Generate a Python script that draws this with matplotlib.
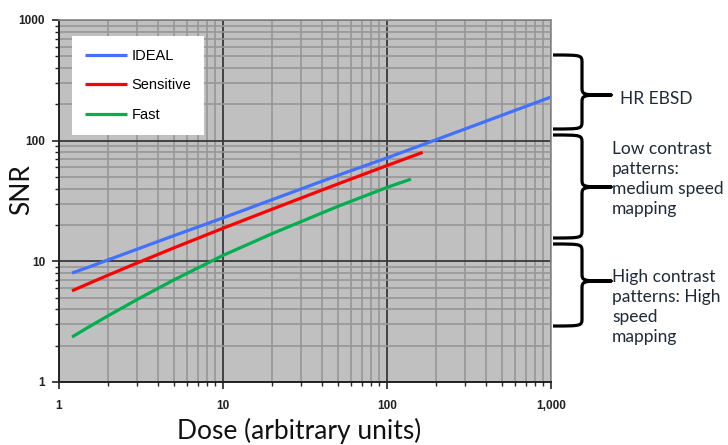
import matplotlib
matplotlib.use("Agg")
import matplotlib.pyplot as plt
from matplotlib.path import Path
from matplotlib.patches import PathPatch
from matplotlib.ticker import FixedLocator, FixedFormatter, NullFormatter

# values (log-log)
ideal_dose = [1.2, 1.5, 2, 5, 10, 20, 50, 100, 200, 500, 1000]
ideal_snr = [8.0, 8.9, 10.3, 16.3, 22.9, 32.5, 51.5, 72, 102, 162, 230]

sens_dose = [1.2, 1.5, 2, 3, 5, 10, 20, 50, 100, 165]
sens_snr = [5.7, 6.5, 7.7, 9.7, 12.9, 18.8, 27.1, 43.7, 62.2, 80]

fast_dose = [1.2, 1.5, 2, 3, 5, 10, 20, 50, 100, 140]
fast_snr = [2.36, 2.83, 3.55, 4.83, 7.0, 11.2, 17.0, 28.5, 41, 48]

series_names = ["IDEAL", "Sensitive", "Fast"]
series_colors = ["#4271FF", "#FF0000", "#00B050"]

x_ticks = [1, 10, 100, 1000]
x_tick_labels = ["1", "10", "100", "1,000"]
y_ticks = [1, 10, 100, 1000]
y_tick_labels = ["1", "10", "100", "1000"]

notes = ["HR EBSD",
         "Low contrast\npatterns:\nmedium speed\nmapping",
         "High contrast\npatterns: High\nspeed\nmapping"]

W, H = 728, 445
fig = plt.figure(figsize=(W / 100, H / 100), dpi=100)
ax = fig.add_axes([59 / W, 1 - 382 / H, 492 / W, 362 / H])
ax.set_facecolor("#C0C0C0")
ax.set_xscale("log")
ax.set_yscale("log")
ax.set_xlim(1, 1000)
ax.set_ylim(1, 1000)

ax.grid(which="minor", color="#979797", lw=1.2)
ax.grid(which="major", color="#383838", lw=1.3)
ax.set_axisbelow(True)

for xs, ys, name, col in zip([ideal_dose, sens_dose, fast_dose],
                             [ideal_snr, sens_snr, fast_snr],
                             series_names, series_colors):
    ax.plot(xs, ys, color=col, lw=2.3, label=name, solid_capstyle="butt")

ax.xaxis.set_major_locator(FixedLocator(x_ticks))
ax.xaxis.set_major_formatter(FixedFormatter(x_tick_labels))
ax.yaxis.set_major_locator(FixedLocator(y_ticks))
ax.yaxis.set_major_formatter(FixedFormatter(y_tick_labels))
ax.xaxis.set_minor_formatter(NullFormatter())
ax.yaxis.set_minor_formatter(NullFormatter())

tick_font = dict(family="Liberation Sans", weight="bold", size=8.5)
for lab in ax.get_xticklabels() + ax.get_yticklabels():
    lab.set_fontproperties(tick_font)
    lab.set_color("#222222")
ax.tick_params(which="major", direction="out", length=5, width=1.2, color="#222222", pad=5)
ax.tick_params(which="minor", direction="out", length=3, width=1.0, color="#222222")
ax.tick_params(axis="x", which="major", pad=8)

for side in ["top", "right"]:
    ax.spines[side].set_color("#8a8a8a")
    ax.spines[side].set_linewidth(1.2)
for side in ["left", "bottom"]:
    ax.spines[side].set_color("#222222")
    ax.spines[side].set_linewidth(1.4)

leg = ax.legend(loc="upper left", bbox_to_anchor=(0.026, 0.956), frameon=True,
                fancybox=False, framealpha=1.0, borderpad=0.9, labelspacing=1.05,
                handlelength=2.9, handletextpad=0.3, borderaxespad=0,
                prop=dict(family="Liberation Sans", size=10.5))
leg.get_frame().set_facecolor("white")
leg.get_frame().set_edgecolor("none")
leg.get_frame().set_linewidth(0)

label_font = dict(family="Lato", size=19, color="#111111")
fig.text(299 / W, 1 - 431 / H, "Dose (arbitrary units)", ha="center", va="center", **label_font)
fig.text(22 / W, 1 - 190 / H, "SNR", ha="center", va="center", rotation=90, **label_font)


def brace(y_top, y_bot, y_tip, x_left=553, x_spine=582, x_tip=611):
    r = 8
    verts = [
        (x_left, y_top),
        (x_spine, y_top), (x_spine, y_top), (x_spine, y_top + r),
        (x_spine, y_tip - r),
        (x_spine, y_tip), (x_spine, y_tip), (x_tip, y_tip),
        (x_spine, y_tip), (x_spine, y_tip), (x_spine, y_tip + r),
        (x_spine, y_bot - r),
        (x_spine, y_bot), (x_spine, y_bot), (x_left, y_bot),
    ]
    codes = [Path.MOVETO,
             Path.CURVE4, Path.CURVE4, Path.CURVE4,
             Path.LINETO,
             Path.CURVE4, Path.CURVE4, Path.CURVE4,
             Path.CURVE4, Path.CURVE4, Path.CURVE4,
             Path.LINETO,
             Path.CURVE4, Path.CURVE4, Path.CURVE4]
    pts = [(x / W, 1 - y / H) for x, y in verts]
    patch = PathPatch(Path(pts, codes), transform=fig.transFigure, fill=False,
                      edgecolor="black", lw=2.3, capstyle="butt", joinstyle="round")
    fig.add_artist(patch)


brace(55, 129, 95)
brace(135, 238, 187)
brace(244, 326, 281)

note_font = dict(family="Lato", size=12.5, color="#1f2a36", linespacing=1.3)
fig.text(620 / W, 1 - 99 / H, notes[0], ha="left", va="center", **note_font)
fig.text(612 / W, 1 - 179 / H, notes[1], ha="left", va="center", **note_font)
fig.text(612 / W, 1 - 307 / H, notes[2], ha="left", va="center", **note_font)

fig.savefig("out.png", dpi=100)
